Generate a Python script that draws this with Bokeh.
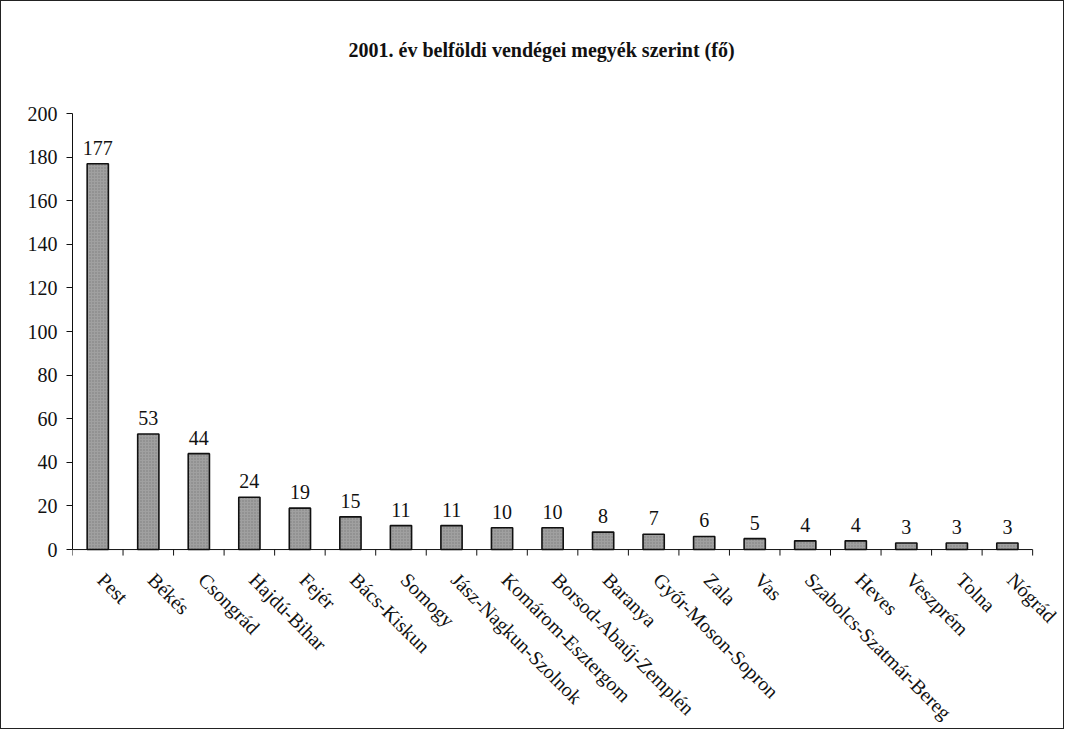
import math
from bokeh.plotting import figure
from bokeh.models import ColumnDataSource, FixedTicker
from bokeh.core.properties import value
from bokeh.embed import file_html
from bokeh.resources import INLINE

categories = ["Pest", "Békés", "Csongrád", "Hajdú-Bihar", "Fejér", "Bács-Kiskun",
              "Somogy", "Jász-Nagkun-Szolnok", "Komárom-Esztergom",
              "Borsod-Abaúj-Zemplén", "Baranya", "Győr-Moson-Sopron", "Zala", "Vas",
              "Szabolcs-Szatmár-Bereg", "Heves", "Veszprém", "Tolna", "Nógrád"]
values = [177, 53, 44, 24, 19, 15, 11, 11, 10, 10, 8, 7, 6, 5, 4, 4, 3, 3, 3]
y_ticks = [0, 20, 40, 60, 80, 100, 120, 140, 160, 180, 200]
title_text = "2001. év belföldi vendégei megyék szerint (fő)"

n = len(categories)
centers = [i + 0.5 for i in range(n)]
boundaries = list(range(n + 1))
src = ColumnDataSource(dict(x=centers, top=values, label=[str(v) for v in values],
                            cat=categories, zero=[0] * n))
tick_src = ColumnDataSource(dict(x=boundaries, y=[0] * len(boundaries)))

FONT = "Liberation Serif"
Y_MAX = y_ticks[-1]

# the frame spans the whole figure (except the y-axis panel) so that the
# rotated category labels and the title can be drawn as unclipped text
p = figure(width=1064, height=729, output_backend="svg", toolbar_location=None,
           x_range=(0, n + 0.65), y_range=(-83, Y_MAX + 51.4),
           min_border_left=71, min_border_right=0, min_border_top=0,
           min_border_bottom=0)
p.styles = {"border": "1px solid #222"}
p.outline_line_color = None
p.xgrid.grid_line_color = None
p.ygrid.grid_line_color = None
p.background_fill_color = "white"
p.xaxis.visible = False

# title
p.text(x=[n / 2], y=[Y_MAX], text=[title_text], text_align="center",
       text_baseline="middle", x_offset=-11, y_offset=-64,
       text_font=value(FONT), text_font_size="20px", text_font_style="bold",
       text_color="#111")

p.vbar(x="x", top="top", width=0.42, bottom=0, source=src,
       fill_color="#a0a0a0", line_color="#111", line_width=1.6,
       hatch_pattern="dot", hatch_color="#606060", hatch_scale=3, hatch_alpha=0.6)

p.text(x="x", y="top", text="label", source=src, text_align="center",
       text_baseline="bottom", y_offset=-9, text_font=value(FONT),
       text_font_size="20px", text_color="#111")

# x axis line and boundary ticks
p.segment(x0=[0], y0=[0], x1=[n], y1=[0], line_color="#111", line_width=1)
p.ray(x="x", y="y", source=tick_src, length=6, length_units="screen",
      angle=-math.pi / 2, line_color="#111", line_width=1)

# category labels
p.text(x="x", y="zero", text="cat", source=src, angle=-math.pi / 4,
       text_align="left", text_baseline="top", x_offset=11, y_offset=19,
       text_font=value(FONT), text_font_size="20px", text_color="#111")

ya = p.yaxis[0]
ya.ticker = FixedTicker(ticks=y_ticks)
ya.bounds = (0, Y_MAX)
ya.major_tick_out = 6
ya.major_tick_in = 0
ya.minor_tick_line_color = None
ya.axis_line_color = "#111"
ya.major_tick_line_color = "#111"
ya.major_label_standoff = 9
ya.major_label_text_font = FONT
ya.major_label_text_font_size = "20px"
ya.major_label_text_color = "#111"

open("out.html", "w").write(file_html(p, INLINE))
